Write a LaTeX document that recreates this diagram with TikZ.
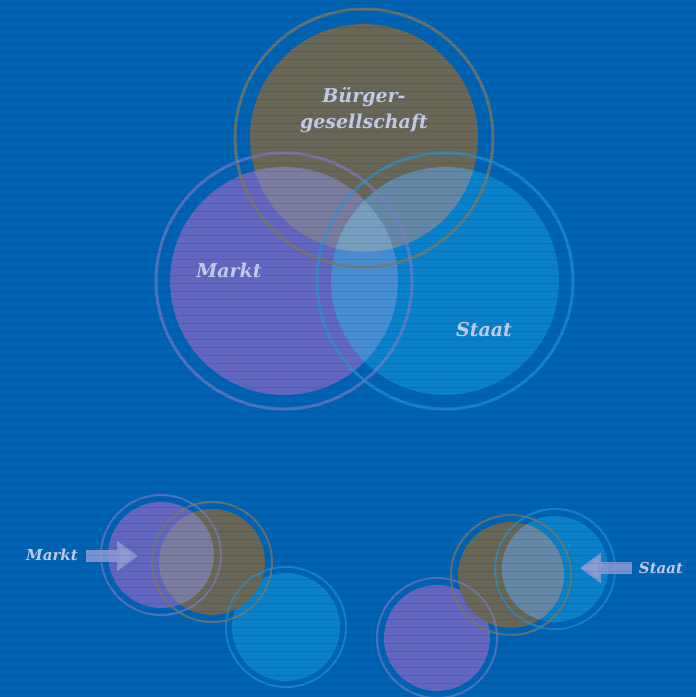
\documentclass[tikz,border=0pt]{standalone}
\usepackage{fontspec}
\setmainfont{DejaVu Serif}
\usepackage{tikz}
\usetikzlibrary{arrows.meta, positioning}

\definecolor{bgblue}{RGB}{0,98,177}
\definecolor{olivefill}{RGB}{104,102,86}
\definecolor{oliveline}{RGB}{122,120,100}
\definecolor{lilafill}{RGB}{98,102,190}
\definecolor{lilaline}{RGB}{128,124,200}
\definecolor{staatfill}{RGB}{10,128,200}
\definecolor{staatline}{RGB}{40,148,215}
\definecolor{bmfill}{RGB}{122,124,158}
\definecolor{bsfill}{RGB}{100,135,165}
\definecolor{msfill}{RGB}{72,140,210}
\definecolor{bmsfill}{RGB}{120,158,190}
\definecolor{labeltext}{RGB}{195,203,235}
\definecolor{arrowfill}{RGB}{140,155,210}

\tikzset{
  disc/.style={circle, inner sep=0pt, minimum size=#1},
  ring/.style={line width=3pt, draw opacity=0.75},
  label/.style={text=labeltext, font=\bfseries\itshape\fontsize{19}{26}\selectfont, align=center},
  smalllabel/.style={text=labeltext, font=\bfseries\itshape\fontsize{15}{18}\selectfont},
  fatarrow/.style={draw=arrowfill, line width=12pt, draw opacity=0.85,
    -{Triangle[length=21pt, width=29pt, fill=arrowfill]}}
}

\begin{document}
\begin{tikzpicture}[x=1pt, y=-1pt]
    % Hintergrund
    \fill[bgblue] (0,0) rectangle (696,697);
    \useasboundingbox (0,0) rectangle (696,697);

    % grosse Kreise
    \node[disc=228pt, fill=olivefill] (burger) at (364,138) {};
    \node[disc=228pt, fill=lilafill] (markt) at (284,281) {};
    \node[disc=228pt, fill=staatfill] (staat) at (445,281) {};
    \begin{scope}
        \clip (burger.center) circle[radius=114pt];
        \fill[bmfill] (markt.center) circle[radius=114pt];
        \fill[bsfill] (staat.center) circle[radius=114pt];
    \end{scope}
    \begin{scope}
        \clip (markt.center) circle[radius=114pt];
        \fill[msfill] (staat.center) circle[radius=114pt];
        \clip (burger.center) circle[radius=114pt];
        \fill[bmsfill] (staat.center) circle[radius=114pt];
    \end{scope}
    \draw[ring, oliveline] (burger.center) circle[radius=129pt];
    \draw[ring, lilaline, draw opacity=0.6] (markt.center) circle[radius=128pt];
    \draw[ring, staatline, draw opacity=0.6] (staat.center) circle[radius=128pt];

    \node[label] (burgerlabel) at (364,110) {Bürger-\\gesellschaft};
    \node[label] (marktlabel) at (229,270) {Markt};
    \node[label] (staatlabel) at (484,330) {Staat};

    % kleine Kreise links
    \node[disc=108pt, fill=staatfill] (staat1) at (286,627) {};
    \node[disc=106pt, fill=lilafill] (markt1) at (161,555) {};
    \node[disc=106pt, fill=olivefill] (burger1) at (212,562) {};
    \begin{scope}
        \clip (burger1.center) circle[radius=53pt];
        \fill[bmfill] (markt1.center) circle[radius=53pt];
    \end{scope}
    \draw[ring, staatline, line width=2pt, draw opacity=0.6] (staat1.center) circle[radius=60pt];
    \draw[ring, lilaline, line width=2pt, draw opacity=0.6] (markt1.center) circle[radius=60pt];
    \draw[ring, oliveline, line width=2pt] (burger1.center) circle[radius=60pt];

    \node[smalllabel] (marktlabel1) at (52,555) {Markt};
    \coordinate (marktend) at (138,556);
    \draw[fatarrow] (86,556) -- (marktend);

    % kleine Kreise rechts
    \node[disc=106pt, fill=lilafill] (markt2) at (437,638) {};
    \node[disc=106pt, fill=staatfill] (staat2) at (555,569) {};
    \node[disc=106pt, fill=olivefill] (burger2) at (511,575) {};
    \begin{scope}
        \clip (burger2.center) circle[radius=53pt];
        \fill[bsfill] (staat2.center) circle[radius=53pt];
    \end{scope}
    \draw[ring, lilaline, line width=2pt, draw opacity=0.6] (markt2.center) circle[radius=60pt];
    \draw[ring, oliveline, line width=2pt] (burger2.center) circle[radius=60pt];
    \draw[ring, staatline, line width=2pt, draw opacity=0.6] (staat2.center) circle[radius=60pt];

    \node[smalllabel] (staatlabel2) at (661,568) {Staat};
    \coordinate (staatend) at (580,568);
    \draw[fatarrow] (632,568) -- (staatend);

    % Streifen
    \foreach \y in {3,11,...,697}
        \draw[black, opacity=0.09, line width=1pt] (0,\y) -- (696,\y);
\end{tikzpicture}
\end{document}
